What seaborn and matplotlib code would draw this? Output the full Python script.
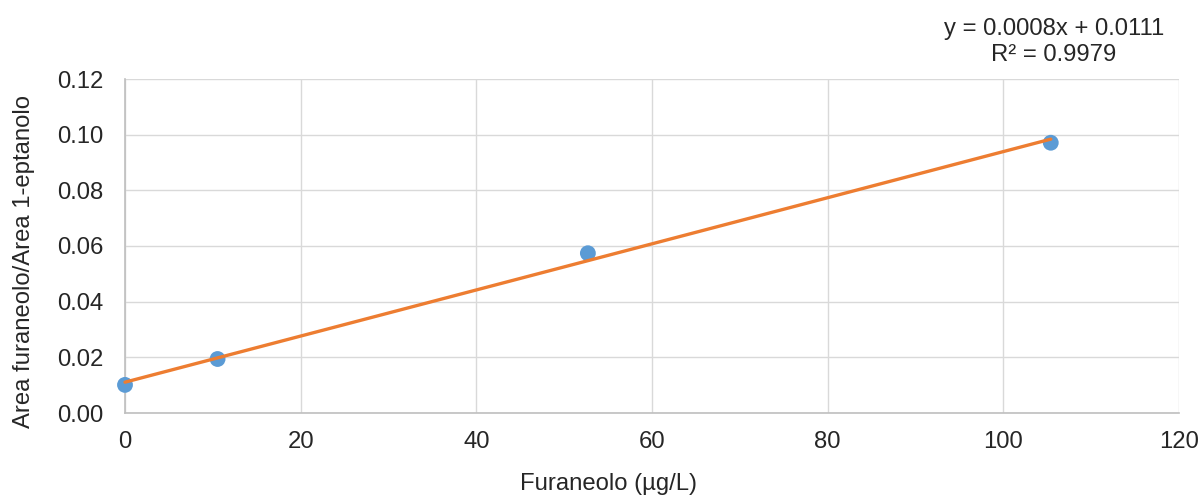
import numpy as np
import pandas as pd
import matplotlib
matplotlib.use("Agg")
import matplotlib.pyplot as plt
import seaborn as sns

# Calibration standards: furaneolo concentration vs. area ratio
concentration = [0.0, 10.54, 52.7, 105.4]          # µg/L
area_ratio = [0.0101, 0.0194, 0.0574, 0.0971]      # area furaneolo / area 1-eptanolo

x_ticks = [0, 20, 40, 60, 80, 100, 120]
y_ticks = [0.00, 0.02, 0.04, 0.06, 0.08, 0.10, 0.12]

sns.set_theme(style="white")
plt.rcParams["font.family"] = ["Liberation Sans", "DejaVu Sans"]

df = pd.DataFrame({"conc": concentration, "ratio": area_ratio})

# Linear least-squares trend line
slope, intercept = np.polyfit(df["conc"], df["ratio"], 1)
pred = slope * df["conc"] + intercept
r2 = 1 - ((df["ratio"] - pred) ** 2).sum() / ((df["ratio"] - df["ratio"].mean()) ** 2).sum()
fit = pd.DataFrame({"conc": [df["conc"].min(), df["conc"].max()]})
fit["ratio"] = slope * fit["conc"] + intercept

W, H = 1203, 497
fig = plt.figure(figsize=(W / 100, H / 100), dpi=100)
ax = fig.add_axes([125 / W, 1 - 413 / H, (1179 - 125) / W, (413 - 79) / H])

text_color = "#262626"
grid_color = "#d9d9d9"
fs = 17.2

sns.scatterplot(data=df, x="conc", y="ratio", ax=ax, s=130, color="#5B9BD5",
                edgecolor="none", zorder=3, clip_on=False)
sns.lineplot(data=fit, x="conc", y="ratio", ax=ax, color="#ED7D31", linewidth=2.4,
             zorder=4, clip_on=False)

ax.set_xlim(0, 120)
ax.set_ylim(0, 0.12)
ax.set_xticks(x_ticks)
ax.set_xticklabels([str(t) for t in x_ticks])
ax.set_yticks(y_ticks)
ax.set_yticklabels([f"{t:.2f}" for t in y_ticks])
ax.tick_params(axis="both", length=0, labelsize=fs, colors=text_color)
ax.tick_params(axis="x", pad=13)
ax.tick_params(axis="y", pad=15.5)

ax.grid(True, color=grid_color, linewidth=1.0)
ax.set_axisbelow(True)
for side in ["top", "right"]:
    ax.spines[side].set_visible(False)
for side in ["left", "bottom"]:
    ax.spines[side].set_color("#bfbfbf")
    ax.spines[side].set_linewidth(1.2)

ax.set_xlabel("")
ax.set_ylabel("")
fig.text(609 / W, 1 - 484 / H, "Furaneolo (µg/L)", ha="center", va="center",
         fontsize=fs, color=text_color)
fig.text(24 / W, 1 - 262 / H, "Area furaneolo/Area 1-eptanolo", ha="center",
         va="center", rotation=90, fontsize=fs, color=text_color)

fig.text(1054 / W, 1 - 42 / H,
         f"y = {slope:.4f}x + {intercept:.4f}\nR² = {r2:.4f}",
         ha="center", va="center", fontsize=fs, color=text_color, linespacing=1.2)

fig.savefig("out.png", dpi=100, facecolor="white")
